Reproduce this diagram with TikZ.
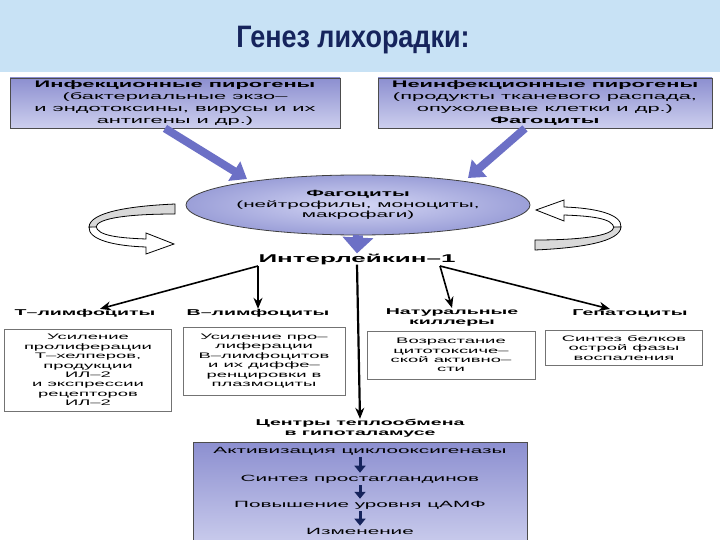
\documentclass[tikz,border=0pt]{standalone}
\usepackage{fontspec}
\setmainfont{Liberation Sans}
\newfontfamily\widefont[FakeStretch=2.3]{Liberation Sans}
\newfontfamily\titlefont[FakeStretch=0.87]{Liberation Sans}
\usetikzlibrary{arrows.meta}

\definecolor{bgside}{RGB}{200,226,245}
\definecolor{bgmid}{RGB}{236,245,252}
\definecolor{liltop}{RGB}{140,143,208}
\definecolor{lilbot}{RGB}{205,207,238}
\definecolor{ellin}{RGB}{212,214,244}
\definecolor{ellout}{RGB}{155,159,216}
\definecolor{arrowblue}{RGB}{108,112,198}
\definecolor{navy}{RGB}{22,36,92}

\begin{document}
\begin{tikzpicture}[
        x=1pt, y=-1pt,
        pbox/.style={draw=black!70, line width=0.8pt, top color=liltop, bottom color=lilbot,
            align=center, inner sep=0pt, font=\widefont\fontsize{9.5}{11.8}\selectfont},
        wbox/.style={draw=black!55, line width=0.7pt, fill=white, align=center, inner sep=0pt,
            font=\widefont\fontsize{8}{9.4}\selectfont},
        lbl/.style={align=center, inner sep=0pt, font=\widefont\bfseries\fontsize{8.5}{10}\selectfont},
        chaintext/.style={inner sep=2pt, font=\widefont\fontsize{9}{11}\selectfont},
        bigarr/.style={draw=arrowblue, line width=8pt, -{Triangle[width=22pt,length=15pt]}},
        thinarr/.style={draw=black, line width=1.6pt, -{Stealth[length=11pt,width=9pt]}},
        chainarr/.style={draw=navy, line width=3pt, -{Triangle[width=11pt,length=7pt]}},
        looparr/.pic={
            \filldraw[fill=white, draw=black, line width=0.8pt]
                (96,226) .. controls (97,236) and (120,238) .. (146,239) -- (146,233) -- (174,244)
                -- (146,254) -- (146,247) .. controls (115,246) and (88,240) .. (89,227) -- cycle;
            \filldraw[fill=black!15, draw=black, line width=0.8pt]
                (175,204) -- (175,214) .. controls (130,214) and (97,218) .. (96,227)
                -- (89,227) .. controls (90,212) and (130,206) .. (175,204) -- cycle;
        }
    ]
        \useasboundingbox (0,0) rectangle (720,540);
        \clip (0,0) rectangle (720,540);
        \fill[white] (0,0) rectangle (720,540);
        \shade[left color=bgside, middle color=bgmid, right color=bgside] (0,0) rectangle (720,72);

        \node[font=\titlefont\bfseries\fontsize{31}{36}\selectfont, text=navy] (title) at (353,40) {Генез лихорадки:};

        % pyrogens
        \node[pbox, minimum width=330, minimum height=50] (ipyr) at (175,103)
            {{\bfseries Инфекционные пирогены}\\(бактериальные экзо–\\и эндотоксины, вирусы и их\\антигены и др.)};
        \node[pbox, minimum width=334, minimum height=50] (npyr) at (545,103)
            {{\bfseries Неинфекционные пирогены}\\(продукты тканевого распада,\\опухолевые клетки и др.)\\{\bfseries Фагоциты}};

        % phagocytes
        \shade[draw=black!75, line width=0.8pt, inner color=ellin, outer color=ellout]
            (358,205) ellipse [x radius=172, y radius=30];
        \node[align=center, inner sep=0pt, minimum width=345, minimum height=60,
            font=\widefont\fontsize{9}{10.5}\selectfont] (phag) at (358,205)
            {{\bfseries Фагоциты}\\(нейтрофилы, моноциты,\\макрофаги)};
        \coordinate (phagL) at (247,179);
        \coordinate (phagR) at (468,178);
        \draw[bigarr] ([xshift=-10pt]ipyr.south) -- (phagL);
        \draw[bigarr] ([xshift=-20pt]npyr.south) -- (phagR);

        \node[lbl, font=\widefont\bfseries\fontsize{11.3}{13}\selectfont] (il) at (357,259) {Интерлейкин–1};
        \draw[bigarr, line width=10pt, -{Triangle[width=30pt,length=16pt]}] (phag.south) -- (il.north);

        \pic {looparr};
        \pic[rotate=180] at (710,454) {looparr};

        % target cells
        \node[lbl] (tly) at (85,313) {Т–лимфоциты};
        \node[lbl] (bly) at (258,313) {В–лимфоциты};
        \node[lbl] (nk) at (452,317) {Натуральные\\киллеры};
        \node[lbl] (hep) at (630,313) {Гепатоциты};

        \coordinate (ilL) at (258,266);
        \coordinate (ilR) at (440,266);
        \draw[thinarr] (ilL) -- ([xshift=15pt]tly.north);
        \draw[thinarr] (ilL) -- (bly.north);
        \draw[thinarr] (ilR) -- (nk.north);
        \draw[thinarr] (ilR) -- ([xshift=-20pt]hep.north);

        \node[wbox, minimum width=167, minimum height=82] (tbox) at (88,370)
            {Усиление\\пролиферации\\Т–хелперов,\\продукции\\ИЛ–2\\и экспрессии\\рецепторов\\ИЛ–2};
        \node[wbox, minimum width=162, minimum height=68] (bbox) at (264,361)
            {Усиление про–\\лиферации\\В–лимфоцитов\\и их диффе–\\ренцировки в\\плазмоциты};
        \node[wbox, minimum width=168, minimum height=48] (nbox) at (451,355)
            {Возрастание\\цитотоксиче–\\ской активно–\\сти};
        \node[wbox, minimum width=157, minimum height=35] (hbox) at (624,348)
            {Синтез белков\\острой фазы\\воспаления};

        % hypothalamus
        \node[lbl] (cent) at (360,428) {Центры теплообмена\\в гипоталамусе};
        \draw[thinarr, line width=2.2pt] (il.south) -- (cent.north);

        \node[pbox, minimum width=334, minimum height=108] (cbox) at (360,496) {};
        \node[chaintext] (cyc) at (360,451) {Активизация циклооксигеназы};
        \node[chaintext] (pgs) at (360,479) {Синтез простагландинов};
        \node[chaintext] (camp) at (360,505) {Повышение уровня цАМФ};
        \node[chaintext] (izm) at (360,531) {Изменение};
        \foreach \a/\b in {cyc/pgs, pgs/camp, camp/izm}
            \draw[chainarr] (\a) -- (\b);
    \end{tikzpicture}
\end{document}
